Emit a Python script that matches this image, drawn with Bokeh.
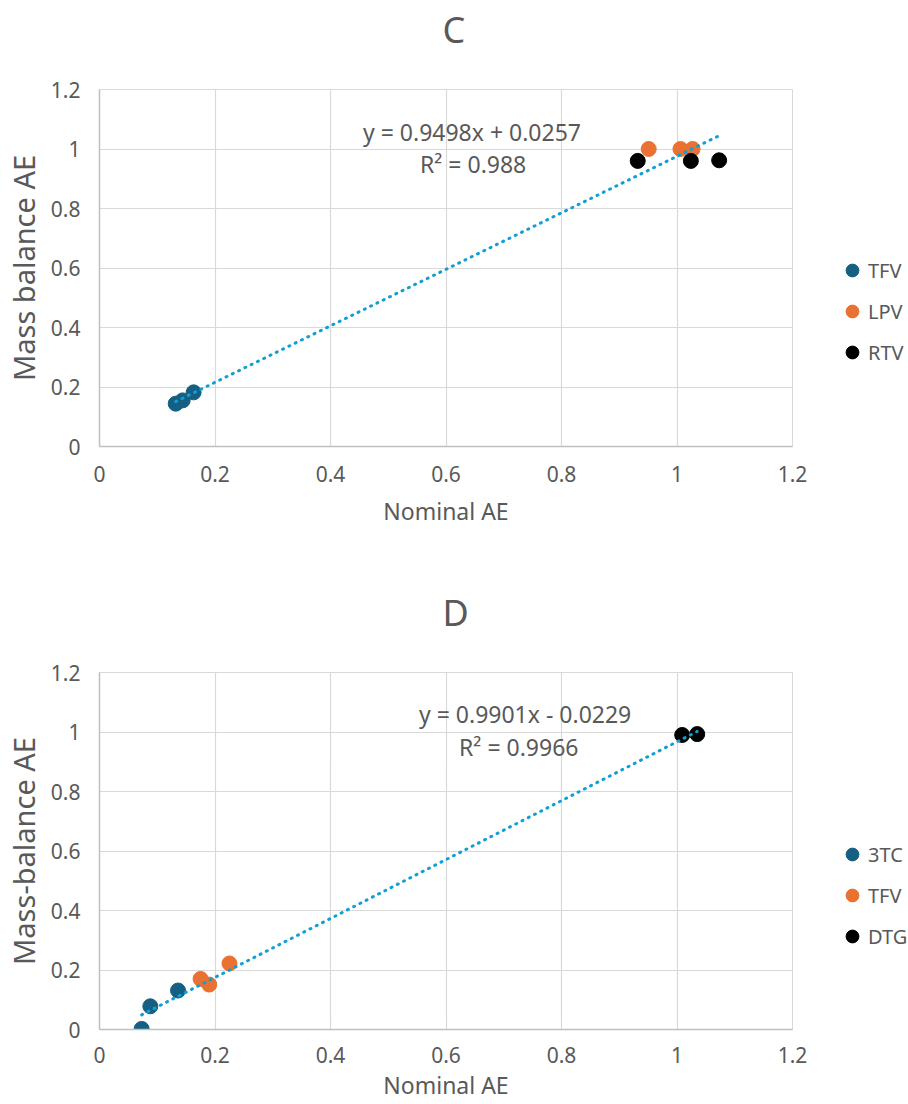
from bokeh.plotting import figure
from bokeh.layouts import column, row
from bokeh.models import (Range1d, FixedTicker, NumeralTickFormatter, Legend,
                          LegendItem, Label, Title)
from bokeh.embed import file_html
from bokeh.resources import INLINE

TICKS = [0, 0.2, 0.4, 0.6, 0.8, 1, 1.2]

# ---- Chart C data ----
C_TITLE = "C"
C_XLABEL = "Nominal AE"
C_YLABEL = "Mass balance AE"
C_NAMES = ["TFV", "LPV", "RTV"]
C_TFV_X = [0.132, 0.144, 0.163]
C_TFV_Y = [0.144, 0.155, 0.182]
C_LPV_X = [0.951, 1.006, 1.027]
C_LPV_Y = [1.0, 1.0, 1.0]
C_RTV_X = [0.932, 1.024, 1.073]
C_RTV_Y = [0.960, 0.960, 0.962]
C_SLOPE = 0.9498
C_INTERCEPT = 0.0257
C_EQ = "y = 0.9498x + 0.0257"
C_R2 = "R\u00b2 = 0.988"

# ---- Chart D data ----
D_TITLE = "D"
D_XLABEL = "Nominal AE"
D_YLABEL = "Mass-balance AE"
D_NAMES = ["3TC", "TFV", "DTG"]
D_3TC_X = [0.073, 0.088, 0.136]
D_3TC_Y = [0.002, 0.078, 0.131]
D_TFV_X = [0.175, 0.190, 0.225]
D_TFV_Y = [0.170, 0.151, 0.222]
D_DTG_X = [1.009, 1.035]
D_DTG_Y = [0.990, 0.993]
D_SLOPE = 0.9901
D_INTERCEPT = -0.0229
D_EQ = "y = 0.9901x - 0.0229"
D_R2 = "R\u00b2 = 0.9966"

COLORS = ["#156082", "#E97132", "#000000"]
TREND = "#0F9ED5"
TXT = "#595959"
FONT = "Noto Sans"


def make_chart(title, xlabel, ylabel, names, xs, ys, slope, intercept, eq, r2,
               eq_pos, r2_pos, height, bottom, xstand, xlstand, leg_y):
    p = figure(width=820, height=height, output_backend="svg", toolbar_location=None,
               x_range=Range1d(0, 1.2), y_range=Range1d(0, 1.2),
               min_border_left=99, min_border_right=28, min_border_top=89,
               min_border_bottom=bottom)
    # spacer title (nearest the frame) and the real title above it
    p.add_layout(Title(text=" ", text_font=FONT, text_font_size="10px",
                       standoff=14), "above")
    p.add_layout(Title(text=title, align="left", offset=343, vertical_align="top",
                       standoff=8, text_font=FONT, text_font_size="36px",
                       text_font_style="normal", text_color=TXT), "above")
    p.outline_line_color = "#D9D9D9"
    p.background_fill_color = "white"
    p.border_fill_color = "white"

    for ax in (p.xaxis[0], p.yaxis[0]):
        ax.ticker = FixedTicker(ticks=TICKS)
        ax.formatter = NumeralTickFormatter(format="0.[0]")
        ax.major_tick_line_color = None
        ax.minor_tick_line_color = None
        ax.major_tick_out = 0
        ax.major_tick_in = 0
        ax.minor_tick_out = 0
        ax.minor_tick_in = 0
        ax.axis_line_color = "#BFBFBF"
        ax.axis_line_width = 1.5
        ax.major_label_text_font = FONT
        ax.major_label_text_font_size = "21px"
        ax.major_label_text_color = TXT
        ax.axis_label_text_font = FONT
        ax.axis_label_text_font_style = "normal"
        ax.axis_label_text_color = TXT
    p.xaxis.axis_label = xlabel
    p.yaxis.axis_label = ylabel
    p.xaxis.axis_label_text_font_size = "23px"
    p.yaxis.axis_label_text_font_size = "29px"
    p.xaxis.major_label_standoff = xstand
    p.xaxis.axis_label_standoff = xlstand
    p.yaxis.major_label_standoff = 19
    p.yaxis.axis_label_standoff = 5
    p.grid.grid_line_color = "#D9D9D9"
    p.grid.grid_line_width = 1.2

    for name, x, y, c in zip(names, xs, ys, COLORS):
        p.scatter(x, y, size=15, fill_color=c, line_color=c)

    allx = [v for x in xs for v in x]
    x0, x1 = min(allx), max(allx)
    p.line([x0, x1], [slope * x0 + intercept, slope * x1 + intercept],
           line_color=TREND, line_width=3, line_dash="1 6", line_cap="round")

    for txt, (lx, ly) in ((eq, eq_pos), (r2, r2_pos)):
        p.add_layout(Label(x=lx, y=ly, text=txt, text_align="center",
                           text_baseline="middle", text_font=FONT,
                           text_font_size="23px", text_color=TXT))

    # legend lives in a narrow companion figure to the right of the plot;
    # its series are out of that figure's view, only the legend shows.
    lg = figure(width=88, height=height, output_backend="svg", toolbar_location=None,
                x_range=Range1d(-2, -1), y_range=Range1d(-2, -1),
                x_axis_location=None, y_axis_location=None,
                min_border_left=0, min_border_right=0,
                min_border_top=0, min_border_bottom=0)
    lg.outline_line_color = None
    lg.grid.visible = False
    items = []
    for name, x, y, c in zip(names, xs, ys, COLORS):
        r = lg.scatter(x, y, size=15, fill_color=c, line_color=c)
        items.append(LegendItem(label=name, renderers=[r]))
    leg = Legend(items=items, location=(16, leg_y), glyph_width=32,
                 glyph_height=38, label_height=38, spacing=3, padding=0, margin=0,
                 label_standoff=0, border_line_color=None, background_fill_alpha=0,
                 label_text_font=FONT, label_text_font_size="20px",
                 label_text_color=TXT)
    lg.add_layout(leg, "center")
    return row(p, lg, spacing=0)


pc = make_chart(C_TITLE, C_XLABEL, C_YLABEL, C_NAMES,
                [C_TFV_X, C_LPV_X, C_RTV_X], [C_TFV_Y, C_LPV_Y, C_RTV_Y],
                C_SLOPE, C_INTERCEPT, C_EQ, C_R2, (0.645, 1.058), (0.647, 0.950),
                583, 137, 19, 10, 75)
pd_ = make_chart(D_TITLE, D_XLABEL, D_YLABEL, D_NAMES,
                 [D_3TC_X, D_TFV_X, D_DTG_X], [D_3TC_Y, D_TFV_Y, D_DTG_Y],
                 D_SLOPE, D_INTERCEPT, D_EQ, D_R2, (0.737, 1.061), (0.726, 0.950),
                 521, 75, 17, 3, 74)

layout = column(pc, pd_, spacing=0)
open("out.html", "w").write(file_html(layout, INLINE))
